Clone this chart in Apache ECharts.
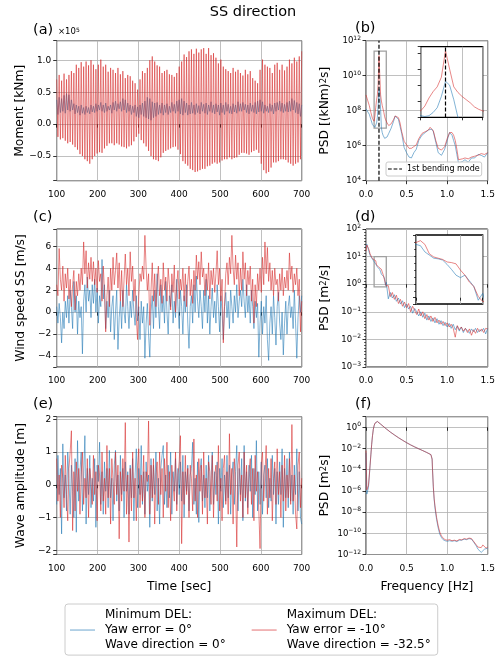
<!DOCTYPE html>
<html><head><meta charset="utf-8">
<script src="https://cdn.jsdelivr.net/npm/echarts@6/dist/echarts.min.js"></script>
<style>html,body{margin:0;padding:0;background:#fff}#c{width:500px;height:661px}</style>
</head><body><div id="c"></div>
<script>
const FONT = 'DejaVu Sans';
const BLUE = '#1f77b4', RED = '#d62728';
const blueName = 'Minimum DEL:\nYaw error = 0°\nWave direction = 0°';
const redName = 'Maximum DEL:\nYaw error = -10°\nWave direction = -32.5°';
const bendName = '1st bending mode';

// time series: samples every 3 s from 100 s
const timeStart = 100, timeStep = 3;
// (a) moment, units of 1e5 kNm
const momentBlue = [
0.38,0.15,0.42,0.18,0.4,0.2,0.45,0.17,0.48,0.22,
0.46,0.2,0.38,0.22,0.32,0.16,0.3,0.18,0.28,0.14,
0.3,0.17,0.26,0.15,0.28,0.18,0.26,0.16,0.3,0.19,
0.28,0.18,0.32,0.2,0.3,0.22,0.34,0.2,0.3,0.18,
0.33,0.2,0.28,0.22,0.3,0.17,0.34,0.22,0.36,0.2,
0.32,0.24,0.35,0.2,0.4,0.22,0.38,0.18,0.33,0.2,
0.3,0.15,0.28,0.18,0.3,0.12,0.27,0.1,0.3,0.15,
0.33,0.12,0.36,0.1,0.42,0.08,0.4,0.06,0.35,0.1,
0.33,0.12,0.34,0.15,0.3,0.17,0.33,0.14,0.3,0.18,
0.32,0.15,0.28,0.18,0.34,0.2,0.31,0.17,0.36,0.2,
0.38,0.16,0.4,0.14,0.36,0.18,0.33,0.14,0.3,0.16,
0.34,0.17,0.3,0.15,0.32,0.18,0.29,0.16,0.34,0.2,
0.31,0.17,0.33,0.15,0.3,0.2,0.35,0.18,0.3,0.16,
0.32,0.19,0.3,0.14,0.33,0.18,0.3,0.15,0.34,0.2,
0.31,0.17,0.28,0.16,0.32,0.19,0.3,0.17,0.35,0.2,
0.32,0.2,0.34,0.22,0.31,0.18,0.3,0.16,0.33,0.2,
0.3,0.18,0.34,0.16,0.36,0.19,0.38,0.2,0.35,0.17,
0.3,0.2,0.28,0.18,0.32,0.2,0.3,0.16,0.33,0.2,
0.34,0.22,0.36,0.2,0.33,0.18,0.31,0.2,0.34,0.19,
0.36,0.2,0.4,0.22,0.37,0.18,0.34,0.16,0.32,0.12,
0.3];
const momentRed = [
0.7,-0.2,0.77,-0.24,0.68,-0.22,0.79,-0.26,0.7,-0.3,
0.77,-0.28,0.83,-0.32,0.8,-0.36,0.93,-0.4,0.88,-0.47,
0.97,-0.5,0.9,-0.55,0.98,-0.58,0.92,-0.62,1.0,-0.55,
0.93,-0.5,0.86,-0.46,0.93,-0.44,1.01,-0.45,0.9,-0.38,
0.93,-0.34,0.82,-0.3,0.88,-0.3,0.85,-0.33,0.8,-0.3,
0.88,-0.32,0.78,-0.35,0.83,-0.36,0.72,-0.38,0.77,-0.35,
0.75,-0.33,0.68,-0.27,0.64,-0.2,0.54,-0.15,0.7,-0.25,
0.83,-0.3,0.8,-0.35,0.88,-0.42,1.0,-0.5,1.06,-0.55,
0.98,-0.56,0.92,-0.58,0.9,-0.52,0.8,-0.45,0.83,-0.42,
0.85,-0.4,0.78,-0.38,0.77,-0.36,0.74,-0.35,0.8,-0.4,
0.9,-0.47,0.98,-0.58,1.09,-0.62,1.05,-0.65,1.14,-0.7,
1.17,-0.72,1.1,-0.75,1.18,-0.74,1.12,-0.72,1.17,-0.7,
1.19,-0.7,1.1,-0.66,1.19,-0.65,1.08,-0.62,1.11,-0.6,
1.04,-0.62,0.95,-0.6,1.01,-0.57,0.9,-0.55,0.86,-0.55,
0.83,-0.52,0.8,-0.55,0.88,-0.53,0.82,-0.52,0.85,-0.48,
0.8,-0.45,0.76,-0.45,0.85,-0.46,0.78,-0.48,0.83,-0.44,
0.72,-0.42,0.68,-0.4,0.64,-0.45,0.85,-0.62,1.01,-0.72,
0.93,-0.77,0.9,-0.75,0.88,-0.68,0.8,-0.6,0.93,-0.6,
0.96,-0.58,0.85,-0.55,0.93,-0.55,0.84,-0.56,0.9,-0.6,
1.01,-0.62,0.95,-0.65,1.04,-0.62,0.98,-0.6,1.06,-0.55,
1.14];
// (c) side-side wind speed, m/s
const windBlue = [
0.5,-1.0,0.8,-0.5,-2.8,0.0,-1.5,1.0,-0.5,1.5,
-1.0,2.0,0.5,-1.5,2.8,0.0,1.5,-2.0,1.0,-0.5,
0.5,-3.8,1.0,2.5,0.0,3.2,1.0,2.0,-0.5,2.5,
0.8,3.0,0.0,2.2,-1.0,1.5,0.5,4.8,1.2,2.5,
-1.5,1.0,-0.5,2.0,-1.8,0.5,1.5,-2.5,0.0,2.0,
-3.4,-0.5,1.0,-1.5,2.0,0.0,-1.0,2.5,0.5,-1.5,
1.0,-0.5,2.0,0.0,-1.2,1.5,-0.8,0.5,-2.5,1.0,
-1.0,0.5,-4.2,-1.0,0.8,-2.0,-4.1,0.0,1.5,-1.5,
2.0,-0.5,3.5,0.5,-1.5,2.5,0.0,1.5,-1.0,2.8,
0.0,-2.0,1.5,0.5,2.5,-1.0,1.0,-0.5,3.0,0.5,
-1.5,2.0,0.5,-2.0,1.5,0.0,2.5,-1.0,-3.3,0.5,
1.5,-1.0,2.5,0.0,3.3,1.0,-0.5,2.0,0.5,-1.5,
2.0,0.0,3.0,-1.0,1.5,-2.0,0.5,2.2,-0.5,1.0,
-1.0,2.5,0.5,-1.8,1.5,0.0,-2.5,0.5,1.8,-0.5,
1.0,-1.5,2.0,0.5,-1.0,1.5,0.0,2.5,-0.5,1.0,
2.0,0.5,3.0,1.0,-0.5,2.5,0.0,1.5,-1.0,2.0,
0.5,-1.5,1.0,-0.5,0.8,-4.1,-1.0,1.0,-2.0,0.5,
-1.0,1.5,-2.5,-4.4,-1.0,0.5,-2.0,1.5,-0.5,-3.0,
0.5,1.8,-1.0,-2.5,0.0,-3.9,-1.0,1.0,-2.0,0.5,
1.5,-0.5,0.5,-1.5,2.0,-1.0,-4.2,-0.5,1.5,0.0,
1.5];
const windRed = [
2.5,1.5,5.8,3.0,2.0,4.2,1.0,3.5,2.2,4.0,
1.2,3.0,0.5,2.5,3.8,0.2,2.8,1.5,3.5,2.0,
4.0,2.5,6.4,3.5,5.6,2.2,4.5,3.0,5.0,2.8,
4.6,2.5,4.0,1.8,4.7,2.8,3.5,1.0,4.2,2.0,
-1.8,1.5,3.2,0.5,4.0,2.0,5.0,2.5,3.8,5.4,
2.2,4.5,1.0,3.8,0.5,3.0,5.3,2.5,4.0,1.5,
5.5,2.8,4.2,1.0,3.0,-0.5,-2.5,1.5,3.5,2.8,
4.2,3.0,7.0,4.0,2.0,3.5,-1.2,2.0,4.5,1.0,
3.5,0.5,2.8,4.2,1.5,3.0,0.8,4.5,2.0,3.2,
1.0,4.0,2.5,0.2,3.5,1.8,4.3,0.0,2.5,3.8,
1.2,3.0,2.0,4.0,1.0,3.5,0.5,2.8,4.2,1.5,
3.0,0.8,3.8,2.0,5.2,3.0,4.6,2.5,5.5,3.2,
4.0,1.5,3.5,2.0,4.5,1.2,3.8,2.5,4.0,1.8,
3.5,5.6,2.5,4.0,1.0,3.0,-2.8,0.5,3.5,4.5,
2.5,5.0,3.5,7.0,4.0,2.5,5.2,3.0,4.5,1.5,
4.0,2.0,5.5,3.0,4.5,1.5,3.8,2.5,4.2,1.0,
3.0,-1.0,2.5,0.5,3.5,2.0,4.0,1.8,5.0,2.5,
6.4,3.5,5.9,2.8,4.5,2.0,3.8,1.5,4.0,2.5,
3.0,1.0,3.5,2.0,4.0,1.5,3.2,2.2,3.8,2.0,
5.4,3.0,4.2,1.8,3.5,2.5,4.0,1.5,3.0,-1.8,
1.0];
// (e) wave amplitude, m
const waveBlue = [
-0.6,0.9,-0.3,0.5,-1.5,1.25,-0.4,0.3,-0.8,1.0,
0.2,-0.9,0.6,-0.2,-1.0,0.8,-1.45,1.35,-0.5,0.4,
1.0,-0.8,0.3,1.5,-1.2,0.5,-0.3,0.9,-0.7,0.2,
-0.5,0.8,-1.3,0.6,0.1,1.3,-0.6,0.4,-0.9,0.7,
-0.2,0.5,-0.7,1.05,-0.4,0.2,-1.1,0.6,1.05,-0.5,
0.3,-0.8,0.9,-0.3,0.5,-1.0,0.7,-0.2,0.4,-0.9,
0.6,-0.4,0.8,-1.1,0.3,1.1,-0.7,0.5,-0.3,1.2,
-0.6,0.4,-0.9,0.7,-0.2,0.3,-1.3,0.8,-0.5,0.6,
-0.3,1.0,-0.8,0.2,-1.2,0.5,0.9,1.2,-0.6,0.3,
-0.7,0.6,-0.4,1.0,-0.9,0.4,-0.2,0.8,-0.6,0.5,
-0.3,0.7,-0.5,0.9,-1.0,0.4,-0.2,0.6,-0.8,0.3,
0.5,1.3,-0.6,0.2,-0.9,0.7,-1.15,0.4,0.8,-0.5,
0.3,-0.7,0.6,-0.4,0.9,-0.8,0.2,1.0,-0.6,0.4,
-0.3,0.7,-1.2,0.5,-0.2,0.8,-0.7,0.3,-0.5,0.9,
-0.4,0.6,-0.9,0.3,0.7,-0.6,0.4,1.2,-0.8,0.5,
-0.3,0.8,-1.1,1.2,-0.5,0.4,-0.7,0.6,-0.2,0.9,
-1.0,0.5,-0.3,1.35,-0.8,0.4,-0.6,0.7,-0.9,0.3,
0.6,-0.4,0.8,-0.7,0.2,-0.5,0.9,-0.3,0.5,-1.2,
0.4,-0.6,0.7,-0.3,1.1,-1.3,0.5,-0.4,0.8,-0.7,
1.0,-0.5,0.3,-0.9,0.6,-0.3,1.1,-0.8,0.4,-1.0,
-1.2];
const waveRed = [
0.8,-0.5,0.3,-1.0,0.6,0.2,-0.7,0.9,-0.3,-1.1,
0.5,1.0,1.65,-1.4,0.4,-0.8,0.7,-0.2,0.5,-0.9,
0.3,1.0,-0.6,0.2,-0.4,0.8,-1.0,0.5,0.1,-0.6,
0.9,-0.3,0.4,-1.1,0.6,0.3,-0.8,1.0,-0.5,0.2,
-0.9,1.2,-0.4,0.5,-1.2,0.8,0.1,-0.6,1.0,-0.3,
0.6,-1.65,0.4,-0.5,0.8,-0.2,1.9,-0.9,0.3,-1.75,
0.5,-0.8,1.0,-0.4,0.2,-1.1,0.6,1.1,-0.7,0.3,
-0.5,0.9,-1.0,0.4,0.1,1.95,-0.9,0.6,-0.4,0.8,
-1.2,0.3,0.7,-0.6,1.0,-0.3,0.5,-1.0,0.8,-0.2,
1.3,-0.7,0.4,-1.1,0.6,0.0,-0.5,1.0,-0.8,0.3,
0.7,1.5,-1.8,0.4,-0.6,0.9,-0.3,0.5,-1.0,0.6,
0.2,-0.8,1.4,-0.5,0.3,-1.0,0.8,-0.2,0.6,-0.9,
1.0,-0.4,0.2,-1.2,0.7,0.4,-0.6,0.9,-1.0,0.3,
0.6,-0.5,1.2,-0.8,0.2,-1.1,0.5,0.9,-0.6,0.4,
-0.9,1.56,-0.3,0.5,-1.2,0.8,0.0,-1.9,0.6,1.0,
-0.5,0.3,-1.0,1.0,-0.4,0.6,-0.9,0.4,0.8,-0.6,
0.5,-1.1,0.9,-0.2,0.4,-0.8,-1.95,0.6,1.0,-0.5,
0.3,1.2,-0.9,0.5,-0.4,0.8,-1.1,0.2,0.7,-0.6,
1.1,-0.3,0.4,-1.0,0.6,-0.5,0.9,-0.8,0.3,-0.4,
0.8,-0.6,1.84,-0.5,0.3,-0.9,-1.35,0.6,1.0,-0.7,
0.2];

// PSDs: frequency (Hz) and log10 of PSD value
const psdMomentFreq = [0,0.02,0.04,0.06,0.08,
0.10,0.11,0.12,0.13,0.14,0.15,0.16,0.17,0.18,0.19,0.20,0.21,0.22,0.23,0.24,0.25,0.26,
0.28,0.31,0.34,0.36,0.38,0.40,0.42,0.44,0.47,0.50,
0.53,0.56,0.59,0.62,0.65,0.69,0.73,0.77,0.79,0.81,
0.83,0.86,0.89,0.93,0.97,1.00,1.03,1.06,1.08,1.10,
1.12,1.14,1.16,1.19,1.22,1.26,1.30,1.34,1.38,1.42,
1.46,1.50];
const psdMomentBlueLog10 = [8.1,8.0,7.8,7.5,7.2,
7.1,7.05,7.1,7.3,7.6,8.3,9.25,9.0,8.1,7.0,6.75,6.6,6.5,6.42,6.4,6.45,6.5,
6.7,7.0,7.4,7.7,7.8,7.5,7.1,6.7,5.9,5.6,
5.35,5.3,5.6,5.8,6.3,6.6,6.75,6.9,7.0,6.95,
6.8,6.2,5.6,5.45,5.8,6.3,6.75,6.6,6.3,6.0,
5.5,5.0,4.9,5.1,5.2,5.05,5.3,5.3,5.5,5.45,
5.35,5.6];
const psdMomentRedLog10 = [8.9,8.6,8.3,7.9,7.55,
7.4,7.7,8.2,8.6,8.9,9.5,11.15,10.0,8.9,8.55,8.3,8.1,7.9,7.65,7.5,7.4,7.3,
7.15,7.25,7.5,7.7,7.8,7.6,7.3,6.8,6.25,6.05,
5.85,5.85,5.95,6.05,6.4,6.7,6.8,6.9,7.05,6.95,
6.85,6.3,5.85,5.75,5.95,6.4,6.75,6.75,6.6,6.3,
5.8,5.2,5.1,5.25,5.3,5.25,5.35,5.4,5.45,5.55,
5.5,5.6];
const bendingFreq = 0.16;

const psdWindFreq = [0,0.01,0.02,0.03,0.04,0.05,0.06,0.07,0.08,0.09,0.10,0.11,0.12,0.13,0.14,0.15,0.16,0.17,0.18,0.19,0.20,0.21,0.22,0.23,0.24,0.25,
0.275,0.30,0.325,0.35,0.375,0.40,0.425,0.45,0.475,0.50,
0.525,0.55,0.575,0.60,0.625,0.65,0.675,0.70,0.725,0.75,
0.775,0.80,0.825,0.85,0.875,0.90,0.925,0.95,0.975,1.00,
1.025,1.05,1.075,1.10,1.125,1.15,1.175,1.20,1.225,1.25,
1.275,1.30,1.325,1.35,1.375,1.40,1.425,1.45,1.475,1.50];
const psdWindBlueLog10 = [1.35,1.45,1.38,1.25,1.15,1.05,1.0,0.95,0.9,0.86,0.85,0.83,0.73,0.68,0.63,0.62,0.60,0.53,0.45,0.36,0.32,0.36,0.27,0.18,-0.04,0.07,
-0.53,-0.3,-0.5,-0.38,-0.62,-0.5,-0.72,-0.6,-0.85,-0.72,
-0.9,-0.8,-1.05,-0.88,-1.0,-1.15,-1.0,-1.2,-1.05,-1.3,
-1.15,-1.35,-1.22,-1.4,-1.25,-1.45,-1.32,-1.5,-1.38,-1.55,
-1.42,-1.6,-1.45,-1.65,-1.52,-1.7,-1.55,-1.75,-1.6,-1.68,
-1.78,-1.62,-1.72,-1.6,-1.75,-1.65,-1.7,-1.6,-1.8,-1.6];
const psdWindRedLog10 = [1.2,1.42,1.45,1.3,1.22,1.1,1.05,0.98,0.95,0.9,0.88,0.91,0.85,0.7,0.65,0.63,0.61,0.57,0.56,0.54,0.44,0.36,0.25,0.18,0.02,-0.06,
-0.05,-0.45,-0.3,-0.55,-0.4,-0.7,-0.55,-0.8,-0.65,-0.85,
-0.7,-1.0,-0.8,-0.95,-1.1,-0.9,-1.15,-1.0,-1.25,-1.1,
-1.3,-1.15,-1.35,-1.2,-1.4,-1.3,-1.45,-1.35,-1.5,-1.4,
-1.55,-1.45,-1.6,-1.92,-1.5,-1.65,-1.55,-1.7,-1.6,-1.75,
-1.62,-1.85,-1.65,-1.78,-1.6,-1.72,-1.62,-1.75,-1.6,-1.62];

const psdWaveFreq = [0,0.01,0.02,0.03,0.04,0.05,0.06,0.07,0.08,0.09,0.10,0.11,0.12,0.13,0.14,
0.16,0.18,0.20,
0.25,0.30,0.35,0.40,0.45,0.50,0.55,0.60,0.65,0.70,0.75,0.80,
0.81,0.815,0.82,0.83,0.84,0.85,
0.87,0.89,0.91,0.93,0.95,0.975,1.00,
1.03,1.06,1.09,1.12,1.15,1.18,1.21,1.24,1.27,1.30,
1.32,1.34,1.36,1.38,1.40,1.42,1.44,1.46,1.48,1.50];
const psdWaveBlueLog10 = [-2.4,-6.3,-6.2,-5.7,-4.7,-3.65,-2.6,-1.6,-0.8,-0.2,0.15,0.38,0.5,0.56,0.55,
0.45,0.3,0.15,
-0.15,-0.45,-0.72,-0.98,-1.22,-1.45,-1.66,-1.85,-2.03,-2.2,-2.38,-2.58,
-2.7,-3.0,-4.0,-5.7,-6.8,-7.6,
-8.7,-9.5,-10.1,-10.4,-10.6,-10.7,-10.75,
-10.7,-10.75,-10.7,-10.78,-10.65,-10.65,-10.55,-10.6,-10.5,-10.55,
-10.75,-10.9,-11.2,-11.5,-11.55,-11.8,-11.7,-11.5,-11.6,-11.4];
const psdWaveRedLog10 = [-2.2,-5.9,-6.0,-5.5,-4.6,-3.6,-2.6,-1.6,-0.8,-0.2,0.15,0.38,0.5,0.56,0.55,
0.45,0.3,0.15,
-0.15,-0.45,-0.72,-0.98,-1.22,-1.45,-1.66,-1.85,-2.03,-2.2,-2.38,-2.58,
-2.7,-3.0,-4.0,-5.6,-6.7,-7.4,
-8.5,-9.3,-9.9,-10.25,-10.45,-10.6,-10.65,
-10.6,-10.7,-10.65,-10.72,-10.58,-10.62,-10.5,-10.55,-10.45,-10.5,
-10.7,-10.8,-11.1,-11.3,-11.2,-11.35,-11.1,-11.2,-11.4,-11.3];

// zoomed windows shown in the insets
const momentZoom = {x: [0.1, 0.25], y: [7.0, 11.4]};
const windZoom = {x: [0.1, 0.25], y: [-0.1, 1.0]};

// ---------- build chart ----------
const ts = vals => vals.map((v, i) => [timeStart + i * timeStep, v]);
const fx = (f, vals) => f.map((x, i) => [x, vals[i]]);
const isMult = (v, s) => Math.abs(v / s - Math.round(v / s)) < 1e-6;
const uminus = s => String(s).replace('-', '\u2212');
const linFmt = (s, d) => v => isMult(v, s) ? uminus((Math.abs(v) < 1e-9 ? 0 : v).toFixed(d)) : '';
const expFmt = s => v => isMult(v, s) ? '10{sup|' + uminus(Math.round(v)) + '}' : '';

const txt = {color: '#000', fontFamily: FONT};
const tick = {show: true, inside: false, length: 3.5, lineStyle: {color: '#000', width: 0.8}};
const split = {show: true, lineStyle: {color: '#b0b0b0', width: 0.8}};
const lab = {...txt, fontSize: 9};
const expRich = {sup: {...txt, fontSize: 6, lineHeight: 6, verticalAlign: 'top'}};
const nameStyle = {...txt, fontSize: 12.3, rich: {sup: {...txt, fontSize: 8.5, lineHeight: 8, verticalAlign: 'top'}}};

const L = 56.7, W = 245, R = 366, RW = 121.7;
const rows = [{top: 40.7, h: 140}, {top: 229, h: 138}, {top: 416.7, h: 137.8}];
const border = {show: true, borderColor: '#000', borderWidth: 0.9, backgroundColor: 'transparent'};
const grid = [
  {...border, left: L, top: rows[0].top, width: W, height: rows[0].h},
  {...border, left: R, top: rows[0].top, width: RW, height: rows[0].h},
  {...border, left: L, top: rows[1].top, width: W, height: rows[1].h},
  {...border, left: R, top: rows[1].top, width: RW, height: rows[1].h},
  {...border, left: L, top: rows[2].top, width: W, height: rows[2].h},
  {...border, left: R, top: rows[2].top, width: RW, height: rows[2].h},
  {show: true, borderColor: '#000', borderWidth: 1.3, backgroundColor: '#fff', z: 10, left: 420.7, top: 46.7, width: 62, height: 70.6},
  {show: true, borderColor: '#000', borderWidth: 1.3, backgroundColor: '#fff', z: 10, left: 416, top: 235, width: 66.7, height: 69}
];

function timeX(gi, named) {
  return {type: 'value', gridIndex: gi, position: 'bottom', min: 100, max: 700, interval: 100,
    axisLine: {show: false}, axisTick: tick, splitLine: split,
    axisLabel: {...lab, margin: 9.5},
    name: named ? 'Time [sec]' : '', nameLocation: 'middle', nameGap: 26, nameTextStyle: nameStyle};
}
function freqX(gi, named) {
  return {type: 'value', gridIndex: gi, position: 'bottom', min: 0, max: 1.5, interval: 0.5,
    axisLine: {show: false}, axisTick: tick, splitLine: split,
    axisLabel: {...lab, margin: 9.5, formatter: v => v.toFixed(1)},
    name: named ? 'Frequency [Hz]' : '', nameLocation: 'middle', nameGap: 26, nameTextStyle: nameStyle};
}
function insetX(gi, zoom) {
  return {type: 'value', gridIndex: gi, position: 'bottom', min: zoom.x[0], max: zoom.x[1], minInterval: 0.2, maxInterval: 0.2, z: 11,
    axisLine: {show: false}, axisTick: {...tick, length: 3}, splitLine: split, axisLabel: {show: false}};
}
function linY(gi, min, max, step, dec, name) {
  return {type: 'value', gridIndex: gi, position: 'left', min, max, minInterval: step, maxInterval: step,
    axisLine: {show: false}, axisTick: tick, splitLine: split,
    axisLabel: {...lab, margin: 5.5, formatter: linFmt(step, dec)},
    name, nameLocation: 'middle', nameGap: 30, nameTextStyle: nameStyle};
}
function expY(gi, min, max, step, name, minor) {
  return {type: 'value', gridIndex: gi, position: 'left', min, max, interval: step,
    axisLine: {show: false}, axisTick: tick, splitLine: split,
    minorTick: minor ? {show: true, splitNumber: 9, length: 2, lineStyle: {color: '#000', width: 0.6}} : {show: false},
    axisLabel: {...lab, fontSize: 8.5, lineHeight: 11, margin: 5, formatter: expFmt(step), rich: expRich},
    name, nameLocation: 'middle', nameGap: 35, nameTextStyle: nameStyle};
}
function insetY(gi, zoom, step, minor) {
  return {type: 'value', gridIndex: gi, position: 'left', min: zoom.y[0], max: zoom.y[1], minInterval: step, maxInterval: step, z: 11,
    axisLine: {show: false}, axisTick: {...tick, length: 3}, splitLine: {show: false}, axisLabel: {show: false},
    minorTick: minor ? {show: true, splitNumber: 9, length: 2, lineStyle: {color: '#000', width: 0.6}} : {show: false}};
}

const xAxis = [timeX(0, false), freqX(1, false), timeX(2, false), freqX(3, false), timeX(4, true), freqX(5, true),
  insetX(6, momentZoom), insetX(7, windZoom)];
const yAxis = [
  linY(0, -0.886, 1.306, 0.5, 1, 'Moment [kNm]'),
  expY(1, 4, 12, 2, 'PSD [(kNm){sup|2}s]', false),
  linY(2, -5.0, 7.58, 2, 0, 'Wind speed SS [m/s]'),
  expY(3, -3, 2, 1, 'PSD [m{sup|2}/s]', true),
  linY(4, -2.13, 2.08, 1, 0, 'Wave amplitude [m]'),
  expY(5, -12, 1, 2, 'PSD [m{sup|2}s]', false),
  insetY(6, momentZoom, 1, false),
  insetY(7, windZoom, 1, true)
];

function line(name, color, idx, data, extra) {
  return Object.assign({type: 'line', name, xAxisIndex: idx, yAxisIndex: idx, data,
    showSymbol: false, symbol: 'none', animation: false, silent: true,
    lineStyle: {color, width: 0.8, opacity: 0.7}, itemStyle: {color, opacity: 0.7}}, extra || {});
}
const zoomBox = z => ({silent: true, itemStyle: {color: 'rgba(0,0,0,0)', borderColor: '#a0a0a0', borderWidth: 1.3},
  data: [[{coord: [z.x[0], z.y[0]]}, {coord: [z.x[1], z.y[1]]}]]});
const bendStyle = {color: '#000', width: 1.2, type: [4, 2]};
const bendData = [[bendingFreq, 4], [bendingFreq, 12]];

const series = [
  line(blueName, BLUE, 0, ts(momentBlue)),
  line(redName, RED, 0, ts(momentRed)),
  line(blueName, BLUE, 1, fx(psdMomentFreq, psdMomentBlueLog10), {markArea: zoomBox(momentZoom)}),
  line(redName, RED, 1, fx(psdMomentFreq, psdMomentRedLog10)),
  line(bendName, '#000', 1, bendData, {lineStyle: bendStyle, itemStyle: {color: '#000'}, z: 3}),
  line(blueName, BLUE, 2, ts(windBlue)),
  line(redName, RED, 2, ts(windRed)),
  line(blueName, BLUE, 3, fx(psdWindFreq, psdWindBlueLog10), {markArea: zoomBox(windZoom)}),
  line(redName, RED, 3, fx(psdWindFreq, psdWindRedLog10)),
  line(blueName, BLUE, 4, ts(waveBlue)),
  line(redName, RED, 4, ts(waveRed)),
  line(blueName, BLUE, 5, fx(psdWaveFreq, psdWaveBlueLog10)),
  line(redName, RED, 5, fx(psdWaveFreq, psdWaveRedLog10)),
  line(blueName, BLUE, 6, fx(psdMomentFreq, psdMomentBlueLog10), {z: 12}),
  line(redName, RED, 6, fx(psdMomentFreq, psdMomentRedLog10), {z: 12}),
  line(bendName, '#000', 6, bendData, {lineStyle: bendStyle, itemStyle: {color: '#000'}, z: 13}),
  line(blueName, BLUE, 7, fx(psdWindFreq, psdWindBlueLog10), {z: 12}),
  line(redName, RED, 7, fx(psdWindFreq, psdWindRedLog10), {z: 12})
];

const legend = [
  {data: [blueName, redName], left: 65, top: 604, orient: 'horizontal', selectedMode: false,
   icon: 'rect', itemWidth: 25, itemHeight: 1.2, itemGap: 26, padding: [4, 7, 3, 5],
   itemStyle: {opacity: 0.55},
   borderColor: '#cccccc', borderWidth: 1, borderRadius: 3, backgroundColor: 'rgba(255,255,255,0.8)',
   textStyle: {...txt, fontSize: 12, lineHeight: 14.7, padding: [0, 0, 0, 5]}},
  {data: [bendName], left: 386, top: 162, selectedMode: false,
   icon: 'path://M0,0h4v1h-4z M6,0h4v1h-4z M12,0h3v1h-3z', itemWidth: 14, itemHeight: 1.2,
   itemStyle: {color: '#000', opacity: 1},
   padding: [3, 2, 3, 2], borderColor: '#cccccc', borderWidth: 1, borderRadius: 2, backgroundColor: 'rgba(255,255,255,0.8)',
   textStyle: {...txt, fontSize: 8}}
];

const panelLabels = [['(a)', 33, 30], ['(b)', 355, 28], ['(c)', 33, 217], ['(d)', 355, 217], ['(e)', 33, 404], ['(f)', 355, 404]];
const graphic = [
  {type: 'text', x: 253, y: 12.5, style: {text: 'SS direction', ...txt, fontSize: 14.5, align: 'center', verticalAlign: 'middle'}},
  {type: 'text', x: 58, y: 32, style: {text: '×10{sup|5}', ...txt, fontSize: 8.5, align: 'left', verticalAlign: 'middle',
     rich: {sup: {...txt, fontSize: 6, lineHeight: 6, verticalAlign: 'top'}}}}
].concat(panelLabels.map(([t, x, y]) => ({type: 'text', x, y,
  style: {text: t, ...txt, fontSize: 14.5, align: 'left', verticalAlign: 'middle'}})));

const chart = echarts.init(document.getElementById('c'), null, {renderer: 'canvas'});
chart.setOption({animation: false, backgroundColor: '#fff', textStyle: {fontFamily: FONT},
  grid, xAxis, yAxis, series, legend, graphic});
</script></body></html>
